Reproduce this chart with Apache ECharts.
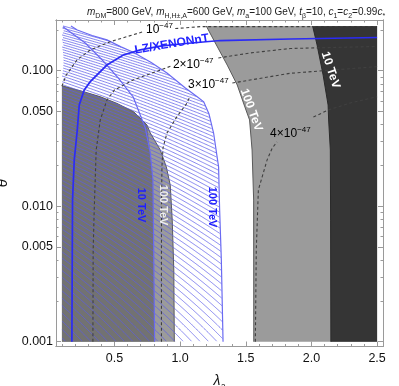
<!DOCTYPE html>
<html>
<head>
<meta charset="utf-8">
<script src="https://cdn.jsdelivr.net/npm/echarts@6/dist/echarts.min.js"></script>
<style>html,body{margin:0;padding:0;background:#ffffff;}#chart{width:399px;height:386px;}</style>
</head>
<body>
<div id="chart"></div>
<script>
// ---------- axes ----------
const lambdaMin = 0.055, lambdaMax = 2.545;
const thetaMin = 0.000922, thetaMax = 0.2367;
const xLabelValues = [0.5, 1.0, 1.5, 2.0, 2.5];
const xMinorValues = [0.1,0.2,0.3,0.4,0.6,0.7,0.8,0.9,1.1,1.2,1.3,1.4,1.6,1.7,1.8,1.9,2.1,2.2,2.3,2.4];
const yLabelValues = [0.001, 0.005, 0.01, 0.05, 0.1];
const yMinorValues = [0.002,0.003,0.004,0.006,0.007,0.008,0.009,0.02,0.03,0.04,0.06,0.07,0.08,0.09,0.2];

// ---------- data box ----------
const boxLam = [0.1, 2.5];
const boxTheta = [0.001, 0.2138];

// ---------- shaded regions (boundary curves) ----------
const grayRightLam   = [1.199, 1.276, 1.359, 1.435, 1.488, 1.529, 1.548, 1.560, 1.561];
const grayRightTheta = [0.2138, 0.155, 0.110, 0.0785, 0.0558, 0.0433, 0.026, 0.0111, 0.001];
const darkRightLam   = [2.009, 2.043, 2.089, 2.127, 2.131, 2.144, 2.146, 2.148];
const darkRightTheta = [0.2138, 0.155, 0.0929, 0.0558, 0.0433, 0.026, 0.0079, 0.001];
const grayLeftLam   = [0.1, 0.265, 0.392, 0.519, 0.646, 0.748, 0.773, 0.849, 0.895, 0.925, 0.940, 0.952, 0.956];
const grayLeftTheta = [0.0775, 0.0700, 0.0643, 0.0574, 0.0498, 0.0397, 0.0347, 0.026, 0.0195, 0.0143, 0.0079, 0.00338, 0.001];
const grayLeftInnerLam   = [0.1, 0.265, 0.392, 0.519, 0.646, 0.748, 0.773, 0.793, 0.799, 0.806];
const grayLeftInnerTheta = [0.0775, 0.0700, 0.0643, 0.0574, 0.0498, 0.0397, 0.0247, 0.0156, 0.00475, 0.001];

// ---------- blue contours ----------
const blue100Lam   = [0.169, 0.217, 0.33, 0.443, 0.55, 0.643, 0.78, 0.90, 1.04, 1.13, 1.18, 1.22, 1.255, 1.293, 1.301, 1.314, 1.327];
const blue100Theta = [0.2138, 0.1995, 0.182, 0.1687, 0.150, 0.137, 0.115, 0.0962, 0.0745, 0.0643, 0.0590, 0.048, 0.0347, 0.0195, 0.0094, 0.0040, 0.001];
const blue10Lam   = [0.108, 0.278, 0.407, 0.530, 0.643, 0.735, 0.773, 0.793, 0.799, 0.806];
const blue10Theta = [0.2114, 0.160, 0.1199, 0.0883, 0.0640, 0.0378, 0.0247, 0.0156, 0.00475, 0.001];
const lzLam   = [0.176, 0.179, 0.181, 0.194, 0.217, 0.232, 0.27, 0.316, 0.443, 0.567, 0.697, 0.849, 1.001, 1.306, 1.839, 2.5];
const lzTheta = [0.001, 0.00475, 0.0111, 0.0219, 0.0365, 0.0558, 0.0721, 0.0830, 0.1101, 0.1306, 0.1423, 0.152, 0.1574, 0.167, 0.1714, 0.1758];

// ---------- cross-section contours (null = label gap) ----------
const sigma1Lam   = [0.1, 0.133, 0.214, 0.316, 0.468, 0.719, null, 0.963, 1.154, 2.5];
const sigma1Theta = [0.0769, 0.0929, 0.1199, 0.1423, 0.1637, 0.194, null, 0.2046, 0.2114, 0.2118];
const sigma2Lam   = [0.336, 0.338, 0.346, 0.361, 0.392, 0.443, 0.5, 0.643, 0.849, 0.94, null, 1.291, 1.535, 1.839, 2.5];
const sigma2Theta = [0.001, 0.00475, 0.0094, 0.026, 0.0433, 0.0608, 0.072, 0.0855, 0.1011, 0.109, null, 0.1242, 0.1352, 0.1459, 0.151];
const sigma3Lam   = [0.858, 0.858, 0.859, 0.862, 0.870, 0.900, 0.976, 1.047, 1.078, null, 1.398, 1.839, 2.5];
const sigma3Theta = [0.001, 0.005, 0.012, 0.020, 0.027, 0.0347, 0.0458, 0.0567, 0.0650, null, 0.0811, 0.0957, 0.1072];
const sigma4Lam   = [1.573, 1.580, 1.596, 1.662, 1.702, 1.738, null, 2.015, 2.129, 2.297, 2.5];
const sigma4Theta = [0.001, 0.00475, 0.0132, 0.0219, 0.0269, 0.0298, null, 0.0455, 0.0513, 0.0578, 0.0643];

// ---------- in-plot labels ----------
const labelTexts  = ['10{sup|−47}', '2×10{sup|−47}', '3×10{sup|−47}', '4×10{sup|−47}', 'LZ/XENONnT', '10 TeV', '100 TeV', '100 TeV', '10 TeV', '100 TeV'];
const labelLam    = [0.843, 1.100, 1.215, 1.840, 0.937, 2.146, 1.542, 0.872, 0.705, 1.246];
const labelTheta  = [0.1995, 0.1101, 0.0785, 0.0341, 0.157, 0.1011, 0.0513, 0.0102, 0.0102, 0.00986];
const labelKind   = ['sigma', 'sigma', 'sigma', 'sigma', 'lz', 'white', 'white', 'light', 'blue', 'blue'];
const labelAngle  = [0, 0, 0, 0, 9.5, -72, -70, -90, -90, -90];

const FONT = "'Liberation Sans', Arial, sans-serif";

// ---------- helpers ----------
function toPix(api, lams, thetas) {
  return lams.map((l, i) => l == null ? null : api.coord([l, thetas[i]]));
}
function splitNull(arr) {
  const segs = []; let cur = [];
  arr.forEach(p => { if (p == null) { if (cur.length > 1) segs.push(cur); cur = []; } else cur.push(p); });
  if (cur.length > 1) segs.push(cur);
  return segs;
}
function inside(pt, poly) {
  let c = false;
  for (let i = 0, j = poly.length - 1; i < poly.length; j = i++) {
    const xi = poly[i][0], yi = poly[i][1], xj = poly[j][0], yj = poly[j][1];
    if (((yi > pt[1]) !== (yj > pt[1])) && (pt[0] < (xj - xi) * (pt[1] - yi) / (yj - yi) + xi)) c = !c;
  }
  return c;
}
function polygonSeries(lams, thetas, fill) {
  return {
    type: 'custom', coordinateSystem: 'cartesian2d', data: [[1, 0.01]], silent: true, clip: true,
    renderItem: (p, api) => ({ type: 'polygon', shape: { points: toPix(api, lams, thetas) }, style: { fill: fill, stroke: null } })
  };
}
function lineSeries(lams, thetas, stroke, width, dash) {
  return {
    type: 'custom', coordinateSystem: 'cartesian2d', data: [[1, 0.01]], silent: true, clip: true,
    renderItem: (p, api) => ({
      type: 'group',
      children: splitNull(toPix(api, lams, thetas)).map(seg => ({
        type: 'polyline', shape: { points: seg },
        style: { stroke: stroke, lineWidth: width, fill: null, lineDash: dash || null }
      }))
    })
  };
}

const grayRightPolyLam = grayRightLam.concat([boxLam[1], boxLam[1]]);
const grayRightPolyTheta = grayRightTheta.concat([boxTheta[0], boxTheta[1]]);
const darkPolyLam = darkRightLam.concat([boxLam[1], boxLam[1]]);
const darkPolyTheta = darkRightTheta.concat([boxTheta[0], boxTheta[1]]);
const grayLeftPolyLam = grayLeftLam.concat([boxLam[0]]);
const grayLeftPolyTheta = grayLeftTheta.concat([boxTheta[0]]);
const grayInnerPolyLam = grayLeftInnerLam.concat([boxLam[0]]);
const grayInnerPolyTheta = grayLeftInnerTheta.concat([boxTheta[0]]);
const hatchPolyLam = [boxLam[0], boxLam[0]].concat(blue100Lam);
const hatchPolyTheta = [boxTheta[0], boxTheta[1]].concat(blue100Theta);

// hatch texture (style only)
const HATCH_P = 0.253, HATCH_K = 0.1029, HATCH_STEP = 0.064;
const hatchSeries = {
  type: 'custom', coordinateSystem: 'cartesian2d', data: [[1, 0.01]], silent: true, clip: true,
  renderItem: (p, api) => {
    const poly = toPix(api, hatchPolyLam, hatchPolyTheta);
    const children = [];
    const lo = Math.log(boxTheta[0]), hi = Math.log(boxTheta[1]);
    const N = 600;
    const cStart = boxLam[0] + Math.pow(boxTheta[0], HATCH_P) / HATCH_K;
    const cEnd = 1.4 + Math.pow(boxTheta[1], HATCH_P) / HATCH_K;
    for (let c = cStart + 0.03; c <= cEnd; c += HATCH_STEP) {
      let seg = [];
      for (let i = 0; i <= N; i++) {
        const th = Math.exp(lo + (hi - lo) * i / N);
        const lam = c - Math.pow(th, HATCH_P) / HATCH_K;
        const pt = api.coord([lam, th]);
        if (inside(pt, poly)) seg.push(pt);
        else { if (seg.length > 1) children.push(seg); seg = []; }
      }
      if (seg.length > 1) children.push(seg);
    }
    return {
      type: 'group',
      children: children.map(s => ({ type: 'polyline', shape: { points: s }, style: { stroke: '#5c5ce8', lineWidth: 0.75, fill: null } }))
    };
  }
};

const labelSeries = {
  type: 'custom', coordinateSystem: 'cartesian2d', data: [[1, 0.01]], silent: true, clip: false,
  renderItem: (p, api) => ({
    type: 'group',
    children: labelTexts.map((t, i) => {
      const pt = api.coord([labelLam[i], labelTheta[i]]);
      const kind = labelKind[i];
      let fill = '#000', size = 12, weight = 'normal';
      if (kind === 'lz') { fill = '#2323ff'; size = 12; weight = 'bold'; }
      if (kind === 'white') { fill = '#ffffff'; size = 12; weight = 'bold'; }
      if (kind === 'light') { fill = '#eeeeee'; size = 11; weight = 'bold'; }
      if (kind === 'blue') { fill = '#1e1eff'; size = 11; weight = 'bold'; }
      return {
        type: 'text', x: pt[0], y: pt[1], rotation: labelAngle[i] * Math.PI / 180,
        style: {
          text: t, fill: fill, fontSize: size, fontWeight: weight, fontFamily: FONT,
          align: 'center', verticalAlign: 'middle', lineHeight: 16,
          rich: { sup: { fontSize: 8, fill: fill, fontFamily: FONT, verticalAlign: 'top', lineHeight: 8 } }
        }
      };
    })
  })
};

const axisGray = '#9a9a9a';
function xAx(pos, ticks, len, withLabels) {
  return {
    type: 'value', min: lambdaMin, max: lambdaMax, position: pos,
    axisLine: { show: true, onZero: false, lineStyle: { color: axisGray, width: 1 } },
    axisTick: { show: true, inside: true, length: len, customValues: ticks, lineStyle: { color: axisGray } },
    axisLabel: withLabels ? { show: true, customValues: xLabelValues, formatter: v => Number(v).toFixed(1), color: '#111', fontSize: 12.5, fontFamily: FONT, margin: 6 } : { show: false },
    splitLine: { show: false },
    name: withLabels ? '{i|λ}{s|a}' : '', nameLocation: 'middle', nameGap: 26,
    nameTextStyle: { fontSize: 14, fontFamily: FONT, color: '#111', lineHeight: 18,
      rich: { i: { fontSize: 14, fontStyle: 'italic', fontFamily: FONT, color: '#111', lineHeight: 18 },
              s: { fontSize: 9, fontStyle: 'italic', fontFamily: FONT, color: '#111', verticalAlign: 'bottom', lineHeight: 10 } } }
  };
}
function yAx(pos, ticks, len, withLabels) {
  return {
    type: 'log', logBase: 10, min: thetaMin, max: thetaMax, position: pos,
    axisLine: { show: true, onZero: false, lineStyle: { color: axisGray, width: 1 } },
    axisTick: { show: true, inside: true, length: len, customValues: ticks, lineStyle: { color: axisGray } },
    axisLabel: withLabels ? { show: true, customValues: yLabelValues, formatter: v => Number(v).toFixed(3), color: '#111', fontSize: 12.5, fontFamily: FONT, margin: 3 } : { show: false },
    splitLine: { show: false }, minorTick: { show: false }, minorSplitLine: { show: false },
    name: withLabels ? 'θ' : '', nameLocation: 'middle', nameGap: 42, nameRotate: 90,
    nameTextStyle: { fontSize: 15, fontStyle: 'italic', fontFamily: FONT, color: '#111' }
  };
}

const chart = echarts.init(document.getElementById('chart'), null, { renderer: 'canvas' });
chart.setOption({
  animation: false,
  backgroundColor: '#ffffff',
  title: {
    text: '{i|m}{s|DM}=800 GeV, {i|m}{s|H,H±,A}=600 GeV, {i|m}{s|a}=100 GeV, {i|t}{s|β}=10, {i|c}{s|1}={i|c}{s|2}=0.99{i|c}{s|*}',
    left: 82, top: 0,
    textStyle: {
      fontSize: 10, fontWeight: 'normal', fontFamily: FONT, color: '#222', lineHeight: 15,
      rich: {
        i: { fontSize: 10, fontStyle: 'italic', fontFamily: FONT, color: '#222', lineHeight: 15 },
        s: { fontSize: 7, fontFamily: FONT, color: '#222', verticalAlign: 'bottom', lineHeight: 7 }
      }
    }
  },
  grid: { left: 56, right: 16, top: 20, bottom: 39.5, outerBoundsMode: 'none' },
  xAxis: [ xAx('bottom', xLabelValues, 5, true), xAx('bottom', xMinorValues, 2.5, false),
           xAx('top', xLabelValues, 5, false), xAx('top', xMinorValues, 2.5, false) ],
  yAxis: [ yAx('left', yLabelValues, 5, true), yAx('left', yMinorValues, 2.5, false),
           yAx('right', yLabelValues, 5, false), yAx('right', yMinorValues, 2.5, false) ],
  series: [
    polygonSeries(grayRightPolyLam, grayRightPolyTheta, '#9b9b9b'),
    polygonSeries(darkPolyLam, darkPolyTheta, '#353535'),
    polygonSeries(grayLeftPolyLam, grayLeftPolyTheta, '#9b9b9b'),
    polygonSeries(grayInnerPolyLam, grayInnerPolyTheta, '#727272'),
    lineSeries(grayRightLam, grayRightTheta, '#5a5a5a', 1),
    lineSeries(darkRightLam, darkRightTheta, '#2a2a2a', 1),
    lineSeries(grayLeftLam, grayLeftTheta, '#5a5a5a', 1),
    hatchSeries,
    lineSeries(blue100Lam, blue100Theta, '#6a6af2', 1.2),
    lineSeries(blue10Lam, blue10Theta, '#6a6af2', 1.2),
    lineSeries(sigma1Lam, sigma1Theta, '#404040', 1.1, [3, 2.5]),
    lineSeries(sigma2Lam, sigma2Theta, '#404040', 1.1, [3, 2.5]),
    lineSeries(sigma3Lam, sigma3Theta, '#404040', 1.1, [3, 2.5]),
    lineSeries(sigma4Lam, sigma4Theta, '#404040', 1.1, [3, 2.5]),
    lineSeries(lzLam, lzTheta, '#2b2bf5', 1.7),
    labelSeries
  ]
});
</script>
</body>
</html>
